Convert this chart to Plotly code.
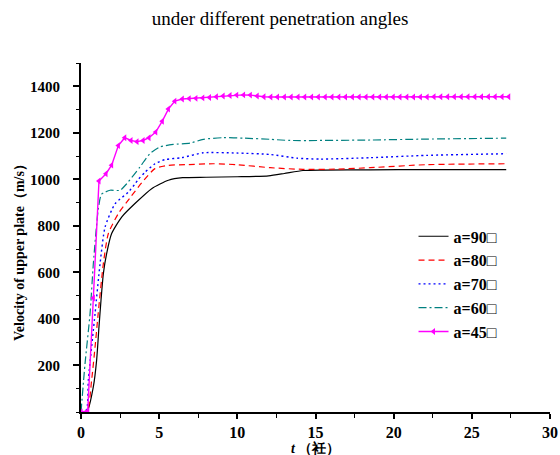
import plotly.graph_objects as go

# ---- data ----
t90 = [0, 0.4, 0.79, 1.0, 1.15, 1.28, 1.43, 1.64, 1.96, 2.6, 3.45, 4.52, 5.59, 6.5, 8, 10, 12, 13, 14.2, 15.5, 18.5, 22, 27.2]
v90 = [0, 5, 109, 223, 366, 481, 595, 681, 767, 838, 896, 960, 996, 1007, 1009, 1011, 1015, 1025, 1038, 1040, 1041, 1042, 1042]

t80 = [0, 0.4, 0.68, 0.9, 1.1, 1.43, 1.75, 2.39, 3.13, 3.88, 4.73, 5.59, 6.65, 8.47, 9.96, 12.1, 14.2, 16.4, 18.5, 22.1, 27.2]
v80 = [0, 5, 137, 280, 424, 638, 767, 853, 920, 985, 1046, 1060, 1063, 1067, 1063, 1050, 1043, 1044, 1050, 1063, 1067]

t70 = [0, 0.35, 0.47, 0.9, 1.22, 1.54, 2.18, 3.03, 3.45, 3.67, 4.1, 4.73, 5.37, 6.44, 7.82, 9.96, 12.1, 13.8, 15.3, 18.5, 22.1, 27.2]
v70 = [0, 10, 137, 424, 638, 795, 895, 945, 980, 1000, 1031, 1067, 1085, 1093, 1114, 1113, 1107, 1091, 1087, 1093, 1103, 1110]

t60 = [0, 0.26, 0.58, 0.79, 1.1, 1.3, 1.54, 1.86, 2.5, 2.92, 3.77, 4.4, 5.05, 5.9, 7.0, 7.82, 9.1, 10.4, 12.1, 13.4, 18.5, 22.1, 27.2]
v60 = [0, 209, 424, 638, 870, 935, 945, 953, 953, 981, 1053, 1110, 1139, 1150, 1156, 1172, 1179, 1177, 1172, 1167, 1169, 1173, 1177]

t45 = [0, 0.43, 0.79, 1.15, 1.6, 1.96, 2.39, 2.8, 3.2, 3.58, 3.97, 4.35, 4.78, 5.2, 5.59, 6.0, 6.48,
       6.92, 7.35, 7.79, 8.22, 8.66, 9.09, 9.53, 9.96, 10.4, 10.83, 11.27, 11.7, 12.14, 12.57, 13.01,
       13.44, 13.88, 14.31, 14.75, 15.18, 15.62, 16.05, 16.49, 16.92, 17.36, 17.79, 18.23, 18.66, 19.1,
       19.53, 19.97, 20.4, 20.84, 21.27, 21.71, 22.14, 22.58, 23.01, 23.45, 23.88, 24.32, 24.75, 25.19,
       25.62, 26.06, 26.49, 26.93, 27.36]
v45 = [0, 5, 490, 993, 1024, 1061, 1145, 1179, 1167, 1162, 1167, 1179, 1203, 1250, 1302, 1336, 1345,
       1347, 1348, 1350, 1352, 1355, 1358, 1360, 1362, 1363, 1362, 1358, 1355, 1354, 1354, 1354,
       1354, 1354, 1354, 1354, 1354, 1354, 1354, 1354, 1354, 1354, 1354, 1354, 1354, 1354,
       1354, 1354, 1354, 1354, 1354, 1354, 1354, 1355, 1355, 1355, 1355, 1355, 1355, 1355,
       1355, 1355, 1355, 1355, 1355]

names = ["a=90□", "a=80□", "a=70□", "a=60□", "a=45□"]
y_ticks = [200, 400, 600, 800, 1000, 1200, 1400]
x_ticks = [0, 5, 10, 15, 20, 25, 30]

SERIF = "Liberation Serif"

fig = go.Figure()
fig.add_trace(go.Scatter(x=t90, y=v90, name=names[0], mode="lines",
                         line=dict(color="#000000", width=1.2, shape="spline", smoothing=0.6)))
fig.add_trace(go.Scatter(x=t80, y=v80, name=names[1], mode="lines",
                         line=dict(color="#ff0000", width=1.2, dash="6px,4px", shape="spline", smoothing=0.6)))
fig.add_trace(go.Scatter(x=t70, y=v70, name=names[2], mode="lines",
                         line=dict(color="#0000ff", width=1.4, dash="2px,3px", shape="spline", smoothing=0.6)))
fig.add_trace(go.Scatter(x=t60, y=v60, name=names[3], mode="lines",
                         line=dict(color="#008080", width=1.2, dash="8px,3px,2px,3px", shape="spline", smoothing=0.6)))
fig.add_trace(go.Scatter(x=t45, y=v45, name=names[4], mode="lines+markers",
                         line=dict(color="#ff00ff", width=1.4),
                         marker=dict(symbol="triangle-left", size=6, color="#ff00ff")))

axis_common = dict(showline=True, linecolor="#000000", linewidth=2, ticks="outside",
                   tickcolor="#000000", tickwidth=1.5, showgrid=False, zeroline=False,
                   automargin=False)

fig.update_xaxes(range=[0, 30], tickvals=x_ticks, ticktext=[str(v) for v in x_ticks], ticklen=5,
                 minor=dict(dtick=2.5, ticks="outside", ticklen=3.5, tickwidth=1.2, tickcolor="#000000"),
                 tickfont=dict(family=SERIF, size=16, color="#000000", weight="bold"),
                 **axis_common)
fig.update_yaxes(range=[0, 1500], tickvals=y_ticks, ticktext=[str(v) for v in y_ticks], ticklen=6,
                 minor=dict(dtick=100, ticks="outside", ticklen=3.5, tickwidth=1.2, tickcolor="#000000"),
                 tickfont=dict(family=SERIF, size=15, color="#000000", weight="bold"),
                 ticklabelstandoff=10,
                 **axis_common)

fig.add_annotation(text="Velocity of upper plate（m/s）", textangle=-90,
                   xref="paper", yref="paper", x=0, y=0.467, xanchor="center", yanchor="middle",
                   xshift=-62, showarrow=False,
                   font=dict(family=SERIF, size=14, color="#000000", weight="bold"))
fig.add_annotation(text="<i>t</i> （衽）",
                   xref="paper", yref="paper", x=0.5, y=0, xanchor="center", yanchor="middle",
                   yshift=-36, showarrow=False,
                   font=dict(family=SERIF, size=14, color="#000000", weight="bold"))

fig.update_layout(
    width=560, height=455,
    margin=dict(l=81, r=10, t=63, b=43),
    paper_bgcolor="#ffffff", plot_bgcolor="#ffffff",
    title=dict(text="under different penetration angles", x=0.5, xanchor="center",
               y=0.96, yanchor="middle",
               font=dict(family=SERIF, size=19, color="#000000")),
    legend=dict(x=0.709, y=0.552, xanchor="left", yanchor="top",
                bgcolor="rgba(0,0,0,0)", borderwidth=0,
                font=dict(family=SERIF, size=16, color="#000000", weight="bold"),
                tracegroupgap=0),
    showlegend=True,
)

fig.write_html("out.html", config={"displayModeBar": False},
               post_script="document.body.style.margin='0px';")
